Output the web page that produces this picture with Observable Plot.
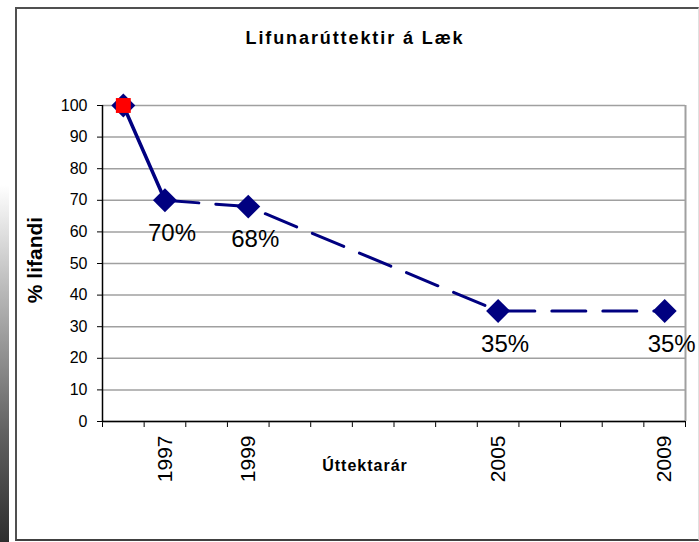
<!DOCTYPE html>
<html>
<head>
<meta charset="utf-8">
<script src="https://cdn.jsdelivr.net/npm/d3@7"></script>
<script src="https://cdn.jsdelivr.net/npm/@observablehq/plot@0.6"></script>
<style>
  html, body { margin: 0; padding: 0; background: #fff; }
  #wrap { position: relative; width: 699px; height: 542px; overflow: hidden; font-family: "Liberation Sans", Arial, sans-serif; }
  #grad { position: absolute; left: 0; top: 185px; width: 9px; height: 357px;
          background: linear-gradient(to bottom, #ffffff 0%, #b8b8b8 30%, #606060 70%, #2e2e2e 100%); }
  #frame { position: absolute; left: 15px; top: 7px; width: 681px; height: 530px;
           border-left: 2px solid #505050; border-top: 2px solid #505050; border-bottom: 2px solid #404040; border-right: 1px solid #e0e0e0; }
  #chart { position: absolute; left: 0; top: 0; }
  .title { position: absolute; left: 0; width: 710px; top: 28px; text-align: center; font-weight: bold; font-size: 18px; letter-spacing: 1.9px; }
  .ylab { position: absolute; left: 35px; top: 260px; transform: translate(-50%, -50%) rotate(-90deg); white-space: nowrap; font-weight: bold; font-size: 21px; }
  .xlab { position: absolute; left: 365px; top: 466px; transform: translate(-50%, -50%); white-space: nowrap; font-weight: bold; font-size: 16px; letter-spacing: 1px; }
</style>
</head>
<body>
<div id="wrap">
  <div id="grad"></div>
  <div id="frame"></div>
  <div id="chart"></div>
  <div class="title" id="title"></div>
  <div class="ylab" id="ylab"></div>
  <div class="xlab" id="xlab"></div>
</div>
<script>
// ---- data ----
const years = [1996, 1997, 1999, 2005, 2009];
const survival = [100, 70, 68, 35, 35];
const yearTickLabels = [1997, 1999, 2005, 2009];
const yTicks = [0, 10, 20, 30, 40, 50, 60, 70, 80, 90, 100];
const titleText = "Lifunarúttektir á Læk";
const yLabelText = "% lifandi";
const xLabelText = "Úttektarár";

document.getElementById("title").textContent = titleText;
document.getElementById("ylab").textContent = yLabelText;
document.getElementById("xlab").textContent = xLabelText;

const data = years.map((yr, i) => ({ year: yr, value: survival[i], label: i === 0 ? "" : survival[i] + "%" }));
const xMin = d3.min(years) - 0.5;
const xMax = d3.max(years) + 0.5;
const boundaries = d3.range(xMin, xMax + 0.01, 1);
const navy = "#000080";

const chart = Plot.plot({
  width: 699,
  height: 542,
  marginLeft: 102,
  marginRight: 14,
  marginTop: 105,
  marginBottom: 121,
  style: { fontFamily: "'Liberation Sans Narrow', 'Liberation Sans', Arial, sans-serif", fontSize: "16px", color: "#000", background: "transparent", overflow: "visible" },
  x: { domain: [xMin, xMax], ticks: boundaries, tickFormat: () => "", tickSize: 6, label: null },
  y: { domain: [0, 100], ticks: yTicks, tickSize: 5, tickPadding: 10, label: null },
  marks: [
    Plot.gridY(yTicks, { stroke: "#a0a0a0", strokeOpacity: 1, strokeWidth: 1.5 }),
    Plot.ruleX([xMax], { stroke: "#a0a0a0", strokeWidth: 2 }),
    Plot.ruleX([xMin], { stroke: "#000", strokeWidth: 1.5 }),
    Plot.ruleY([0], { stroke: "#000", strokeWidth: 1.5 }),
    Plot.text(yearTickLabels, { x: d => d, y: 0, text: d => String(d), rotate: -90, textAnchor: "end", dy: 14, lineAnchor: "middle", fontSize: 21, fontFamily: "'Liberation Sans', Arial, sans-serif" }),
    Plot.line(data.slice(0, 2), { x: "year", y: "value", stroke: navy, strokeWidth: 3.5 }),
    Plot.line(data.slice(1), { x: "year", y: "value", stroke: navy, strokeWidth: 3, strokeDasharray: "34,17" }),
    Plot.dot(data, { x: "year", y: "value", symbol: "diamond2", r: 10.8, fill: navy, stroke: "none" }),
    Plot.dot(data.slice(0, 1), { x: "year", y: "value", symbol: "square", r: 8.4, fill: "#ff0000", stroke: "none" }),
    Plot.text(data.slice(1), { x: "year", y: "value", text: "label", dx: 7, dy: 33, fontSize: 24, fontFamily: "'Liberation Sans', Arial, sans-serif", fill: "#000" })
  ]
});
document.getElementById("chart").appendChild(chart);
</script>
</body>
</html>
